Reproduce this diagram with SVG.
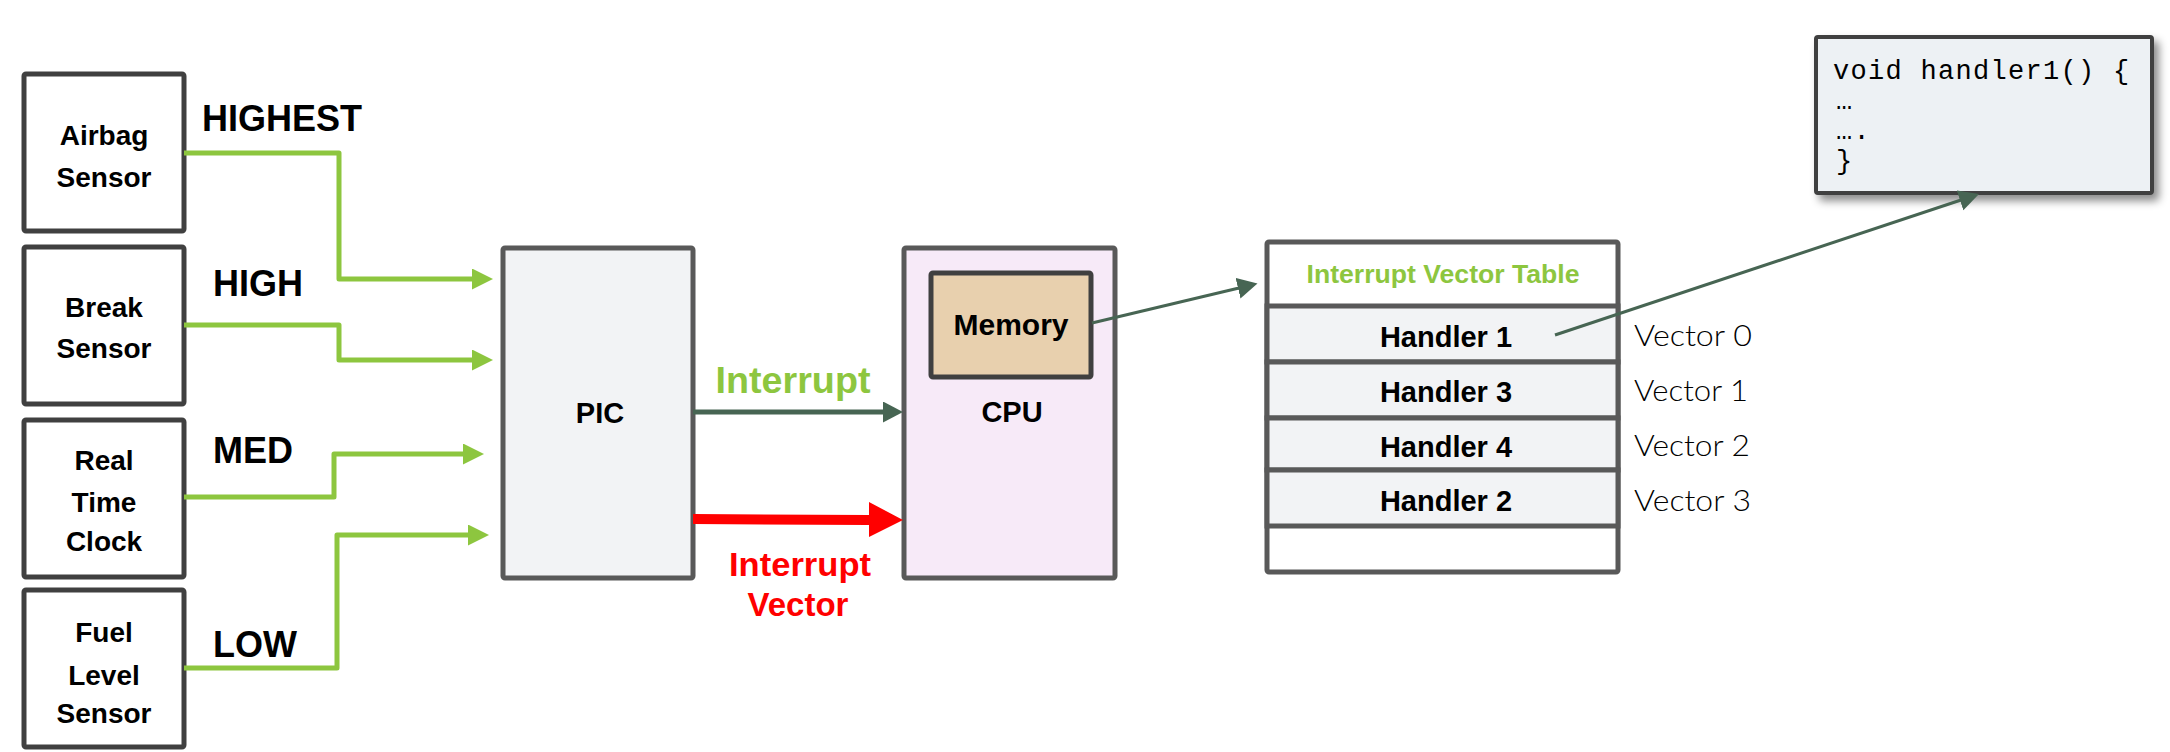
<svg xmlns="http://www.w3.org/2000/svg" width="2170" height="752" viewBox="0 0 2170 752">
<defs>
<style>
.sensor{fill:#ffffff;stroke:#404040;stroke-width:5}
.blk{fill:#f2f3f5;stroke:#595959;stroke-width:5}
.lbl{font-family:"Liberation Sans",Arial,sans-serif;font-weight:bold;fill:#000}
.c{text-anchor:middle}
.g{stroke:#8dc63f;stroke-width:5;fill:none;stroke-linejoin:round}
.dg{stroke:#476553;fill:none}
.vec{font-family:Lato,"Liberation Sans",sans-serif;font-weight:300;font-size:29px;fill:#000}
.code{font-family:"Liberation Mono","DejaVu Sans Mono",monospace;font-size:27px;letter-spacing:1.3px;fill:#000}
</style>
<marker id="ag" markerUnits="userSpaceOnUse" markerWidth="22" markerHeight="22" refX="1" refY="10.5" orient="auto">
<path d="M0,0 L21,10.5 L0,21 z" fill="#8dc63f"/>
</marker>
<marker id="ad" markerUnits="userSpaceOnUse" markerWidth="22" markerHeight="22" refX="1" refY="10.5" orient="auto">
<path d="M0,0 L20,10.5 L0,21 z" fill="#476553"/>
</marker>
<filter id="sh" x="-10%" y="-10%" width="125%" height="135%">
<feDropShadow dx="5" dy="6" stdDeviation="4" flood-color="#000" flood-opacity="0.45"/>
</filter>
</defs>

<g id="airbag">
<rect class="sensor" x="24" y="74" width="160" height="157" rx="2"/>
<text class="lbl c" font-size="28" x="104" y="145">Airbag</text>
<text class="lbl c" font-size="28" x="104" y="187">Sensor</text>
</g>
<g id="break">
<rect class="sensor" x="24" y="247" width="160" height="157" rx="2"/>
<text class="lbl c" font-size="28" x="104" y="317">Break</text>
<text class="lbl c" font-size="28" x="104" y="358">Sensor</text>
</g>
<g id="rtc">
<rect class="sensor" x="24" y="420" width="160" height="157" rx="2"/>
<text class="lbl c" font-size="28" x="104" y="470">Real</text>
<text class="lbl c" font-size="28" x="104" y="512">Time</text>
<text class="lbl c" font-size="28" x="104" y="551">Clock</text>
</g>
<g id="fuel">
<rect class="sensor" x="24" y="590" width="160" height="157" rx="2"/>
<text class="lbl c" font-size="28" x="104" y="642">Fuel</text>
<text class="lbl c" font-size="28" x="104" y="685">Level</text>
<text class="lbl c" font-size="28" x="104" y="723">Sensor</text>
</g>

<g id="priority-labels">
<text class="lbl" font-size="36" x="202" y="131">HIGHEST</text>
<text class="lbl" font-size="36" x="213" y="296">HIGH</text>
<text class="lbl" font-size="36" x="213" y="463">MED</text>
<text class="lbl" font-size="36" x="213" y="657">LOW</text>
</g>

<g id="pic">
<rect class="blk" x="503" y="248" width="190" height="330" rx="2"/>
<text class="lbl c" font-size="29" x="600" y="423">PIC</text>
</g>

<g id="cpu">
<rect x="904" y="248" width="211" height="330" rx="2" fill="#f7eaf8" stroke="#595959" stroke-width="5"/>
<text class="lbl c" font-size="29" x="1012" y="422">CPU</text>
</g>
<g id="memory">
<rect x="931" y="273" width="160" height="104" rx="2" fill="#e8d0ae" stroke="#404040" stroke-width="5"/>
<text class="lbl c" font-size="30" x="1011" y="335">Memory</text>
</g>

<g id="ivt">
<rect x="1267" y="242" width="351" height="330" fill="#ffffff" stroke="#595959" stroke-width="5" rx="2"/>
<rect class="blk" x="1267" y="306" width="351" height="56"/>
<rect class="blk" x="1267" y="362" width="351" height="56"/>
<rect class="blk" x="1267" y="418" width="351" height="52"/>
<rect class="blk" x="1267" y="470" width="351" height="56"/>
<text class="lbl c" font-size="26" x="1443" y="283" style="fill:#8dc63f" textLength="273" lengthAdjust="spacingAndGlyphs">Interrupt Vector Table</text>
<text class="lbl c" font-size="29" x="1446" y="347">Handler 1</text>
<text class="lbl c" font-size="29" x="1446" y="402">Handler 3</text>
<text class="lbl c" font-size="29" x="1446" y="457">Handler 4</text>
<text class="lbl c" font-size="29" x="1446" y="511">Handler 2</text>
</g>

<g id="vector-labels">
<text class="vec" x="1634" y="346" textLength="118" lengthAdjust="spacingAndGlyphs">Vector 0</text>
<text class="vec" x="1634" y="401" textLength="114" lengthAdjust="spacingAndGlyphs">Vector 1</text>
<text class="vec" x="1634" y="456" textLength="116" lengthAdjust="spacingAndGlyphs">Vector 2</text>
<text class="vec" x="1634" y="511" textLength="117" lengthAdjust="spacingAndGlyphs">Vector 3</text>
</g>

<g id="code">
<rect x="1816" y="37" width="336" height="156" fill="#edf1f4" stroke="#404040" stroke-width="4" rx="2" filter="url(#sh)"/>
<text class="code" x="1833" y="79">void handler1() {</text>
<text class="code" x="1836" y="109">…</text>
<text class="code" x="1836" y="139">….</text>
<text class="code" x="1836" y="169">}</text>
</g>

<g id="connectors">
<path class="g" d="M184,153 H339 V279 H473" marker-end="url(#ag)"/>
<path class="g" d="M184,325 H339 V360 H473" marker-end="url(#ag)"/>
<path class="g" d="M184,497 H334 V454 H464" marker-end="url(#ag)"/>
<path class="g" d="M184,668 H337 V535 H469" marker-end="url(#ag)"/>
<path class="dg" stroke-width="5" d="M693,412 H884" marker-end="url(#ad)"/>
<path d="M693,514 L869,515 L869,502 L903,520 L869,537 L869,525 L693,524 z" fill="#ff0000"/>
<path class="dg" stroke-width="3" d="M1092,323 L1239,288" marker-end="url(#ad)"/>
<path class="dg" stroke-width="3" d="M1555,335 L1961,200" marker-end="url(#ad)"/>
</g>

<g id="arrow-labels">
<text class="lbl c" font-size="37" x="793" y="393" style="fill:#8dc63f" textLength="155" lengthAdjust="spacingAndGlyphs">Interrupt</text>
<text class="lbl c" font-size="33" x="800" y="576" style="fill:#ff0000" textLength="142" lengthAdjust="spacingAndGlyphs">Interrupt</text>
<text class="lbl c" font-size="33" x="798" y="616" style="fill:#ff0000">Vector</text>
</g>
</svg>
